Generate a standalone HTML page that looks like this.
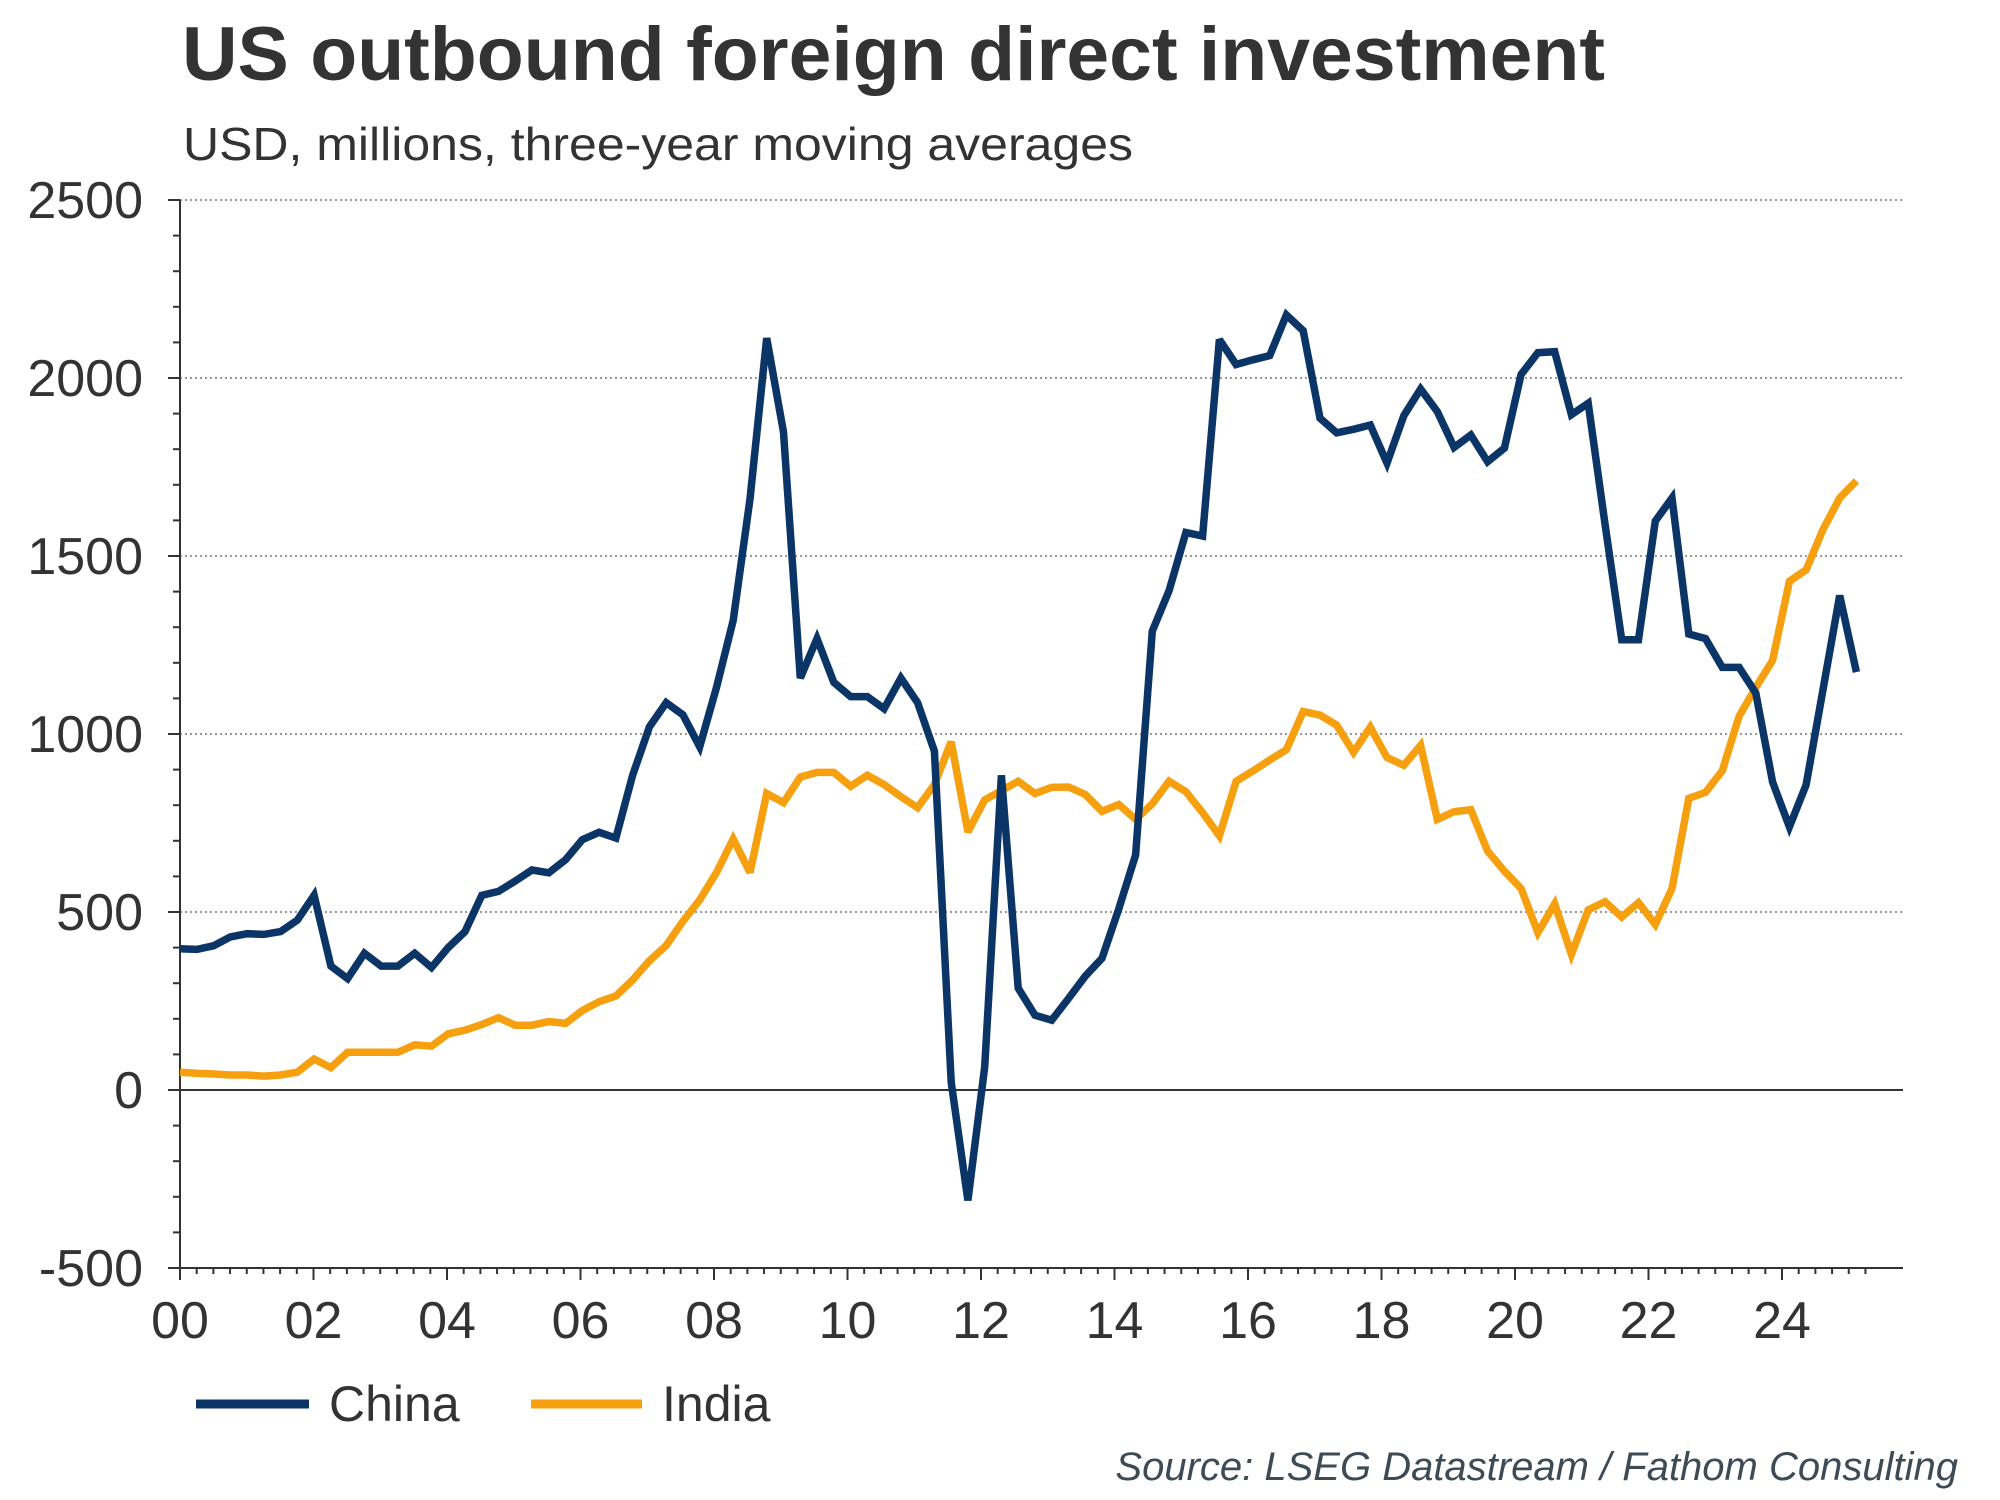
<!DOCTYPE html>
<html><head><meta charset="utf-8"><style>
html,body{margin:0;padding:0;background:#fff;}
svg{display:block;font-family:"Liberation Sans",Arial,sans-serif;}
</style></head><body>
<svg id="chart" width="2000" height="1500" viewBox="0 0 2000 1500" xmlns="http://www.w3.org/2000/svg">
<text x="182" y="80" font-size="76" font-weight="bold" fill="#333" textLength="1423" lengthAdjust="spacingAndGlyphs">US outbound foreign direct investment</text>
<text x="183" y="160" font-size="46" fill="#333" textLength="950" lengthAdjust="spacingAndGlyphs">USD, millions, three-year moving averages</text>
<g id="grid"></g><g id="axes"></g><g id="series"></g>
<g>
<line x1="196" y1="1404" x2="309" y2="1404" stroke="#0a3566" stroke-width="9"/>
<text x="329" y="1421" font-size="50" fill="#333">China</text>
<line x1="531" y1="1404" x2="642" y2="1404" stroke="#f7a00f" stroke-width="9"/>
<text x="662" y="1421" font-size="50" fill="#333">India</text>
</g>
<text x="1958" y="1480" font-size="40" font-style="italic" fill="#3d4b55" text-anchor="end">Source: LSEG Datastream / Fathom Consulting</text>
</svg>
<script>
const china = [397,395,405,430,439,437,445,477,547,348,313,384,348,348,384,344,400,445,547,558,587,618,610,647,703,724,
708,884,1020,1088,1054,964,1131,1319,1660,2112,1848,1157,1268,1145,1105,1105,1071,1157,1088,952,22,-310,65,884,286,210,196,
257,320,370,509,660,1289,1403,1566,1556,2108,2038,2051,2063,2177,2133,1887,1846,1856,1868,1761,1894,1969,1906,1805,1840,
1765,1803,2010,2071,2074,1897,1929,1590,1265,1265,1598,1663,1281,1268,1187,1187,1115,865,739,857,1123,1389,1174];
const india = [50,47,45,42,42,39,42,50,87,63,106,106,106,106,127,123,158,168,184,203,182,182,192,187,223,248,
264,309,363,406,474,534,611,705,611,833,807,879,892,892,853,884,858,824,793,858,978,725,815,841,867,833,850,
851,830,783,802,760,804,867,838,779,714,867,896,927,956,1063,1053,1025,949,1019,934,912,968,760,782,787,
671,615,566,442,523,381,506,529,486,526,465,566,819,836,897,1050,1131,1207,1429,1461,1574,1663,1711];
const startYear = 2000;
const yTicks = [-500,0,500,1000,1500,2000,2500];
const yTickLabels = ["-500","0","500","1000","1500","2000","2500"];
const xTickYears = [0,2,4,6,8,10,12,14,16,18,20,22,24];
const xTickLabels = ["00","02","04","06","08","10","12","14","16","18","20","22","24"];

const NS="http://www.w3.org/2000/svg";
const X0=180, XR=1903, PERYEAR=66.75, Y0=1090, PERUNIT=0.356, DATASTRETCH=1.0046;
function xs(yr){return X0+yr*PERYEAR;}
function ys(v){return Y0-v*PERUNIT;}
function mk(tag,attrs,parent){const e=document.createElementNS(NS,tag);for(const k in attrs)e.setAttribute(k,attrs[k]);parent.appendChild(e);return e;}
const grid=document.getElementById('grid'),axes=document.getElementById('axes'),series=document.getElementById('series');

yTicks.forEach((v,i)=>{
  if(v>0){const g=mk('line',{x1:X0,x2:XR,y1:ys(v),y2:ys(v),stroke:'#999','stroke-width':2,'stroke-dasharray':'2,3'},grid);
    
    }
  const t=mk('text',{x:143,y:ys(v)+18,'font-size':52,fill:'#333','text-anchor':'end'},axes);
  t.textContent=yTickLabels[i];
  
  
  const tk=mk('line',{x1:168,x2:X0,y1:ys(v),y2:ys(v),stroke:'#333','stroke-width':2},axes);
  
  
});
for(let v=-400;v<2500;v+=100){ if(v%500===0)continue;
  const tk=mk('line',{x1:173,x2:X0,y1:ys(v),y2:ys(v),stroke:'#333','stroke-width':2},axes);
  
  }
const ya=mk('line',{x1:X0,x2:X0,y1:ys(2500),y2:ys(-500),stroke:'#333','stroke-width':2},axes);


const xa=mk('line',{x1:X0,x2:XR,y1:ys(-500),y2:ys(-500),stroke:'#333','stroke-width':2},axes);


const zl=mk('line',{x1:X0,x2:XR,y1:ys(0),y2:ys(0),stroke:'#333','stroke-width':2},axes);


for(let q=0;q<=101;q++){const yr=q/4;const major=(q%8===0);
  const tk=mk('line',{x1:xs(yr),x2:xs(yr),y1:ys(-500),y2:ys(-500)+(major?12:6),stroke:'#333','stroke-width':2},axes);
  
  }
xTickYears.forEach((yr,i)=>{
  const t=mk('text',{x:xs(yr),y:1338,'font-size':52,fill:'#333','text-anchor':'middle'},axes);
  t.textContent=xTickLabels[i];
  
  });

function line(data,color,name){
  const pts=data.map((v,i)=>xs(i/4*DATASTRETCH).toFixed(1)+','+ys(v).toFixed(1)).join(' ');
  const p=mk('polyline',{points:pts,fill:'none',stroke:color,'stroke-width':7.5,'stroke-linejoin':'miter','stroke-miterlimit':3},series);
  
  
}
line(india,'#f7a00f','india-line');
line(china,'#0a3566','china-line');
</script>
</body></html>
